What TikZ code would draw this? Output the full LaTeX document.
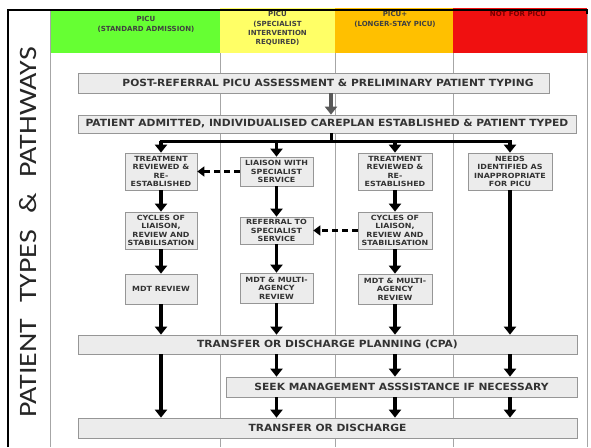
\documentclass[tikz,border=0pt]{standalone}
\usepackage{fontspec}
\usetikzlibrary{arrows.meta,shadows}
\newfontfamily\dvs{DejaVu Sans}
\newfontfamily\dvsw{DejaVu Sans}[FakeStretch=1.08]
\newfontfamily\dvss{DejaVu Sans}[FakeStretch=1.12]
\newfontfamily\carl{Carlito}[FakeStretch=1.2]
\definecolor{hgreen}{RGB}{102,255,51}
\definecolor{hyellow}{RGB}{255,255,102}
\definecolor{horange}{RGB}{255,192,0}
\definecolor{hred}{RGB}{240,16,16}
\definecolor{boxfill}{RGB}{236,236,236}
\definecolor{boxline}{RGB}{150,150,150}
\tikzset{
  colline/.style={draw=black!35, line width=0.9pt},
  hdtext/.style={font=\dvs\bfseries\fontsize{7}{9.3}\selectfont, align=center, anchor=north, inner sep=0pt},
  boxshadow/.style={drop shadow={shadow xshift=1.2pt, shadow yshift=-1.2pt, fill=black!22, opacity=1}},
  bigbox/.style={draw=boxline, fill=boxfill, line width=0.7pt, inner sep=0pt, boxshadow},
  bigtext/.style={font=\dvsw\bfseries\fontsize{9.9}{11}\selectfont, text=black!80, inner sep=0pt},
  smallbox/.style={draw=boxline, fill=boxfill, line width=0.7pt, inner sep=0pt, align=center, boxshadow,
    font=\dvss\bfseries\fontsize{7.1}{8.4}\selectfont, text=black!80},
  arr/.style={line width=3.3pt, -{Triangle[length=8pt,width=12pt]}},
  darr/.style={line width=2.1pt, dash pattern=on 6pt off 4pt, -{Triangle[length=7pt,width=10pt]}},
}
\begin{document}
\begin{tikzpicture}[x=1pt,y=-1pt]
\useasboundingbox (0,0) rectangle (591,447);
% header colours
\fill[hgreen] (50,10) rectangle (220,53);
\fill[hyellow] (220,8) rectangle (335,53);
\fill[horange] (335,8) rectangle (453,53);
\fill[hred] (453,8) rectangle (587,53);
% column lines
\draw[colline] (50,10) -- (50,447);
\draw[colline] (220,53) -- (220,447);
\draw[colline] (335,53) -- (335,447);
\draw[colline] (453,53) -- (453,447);
\draw[colline] (587,10) -- (587,447);
% left frame and top rule
\draw[line width=1.6pt] (8,447) -- (8,10) -- (587,10) -- (587,14);
% side title
\node[rotate=90, font=\carl\fontsize{25}{29}\selectfont, text=black!85, inner sep=0pt] (title) at (28,232.5)
  {PATIENT\hspace{16pt}TYPES\hspace{16pt}\&\hspace{16pt}PATHWAYS};
% header texts
\node[hdtext, text=black!75] (h1) at (146,16.5) {PICU\\(STANDARD ADMISSION)};
\node[hdtext, text=black!75] (h2) at (277.5,11.5) {PICU\\(SPECIALIST\\INTERVENTION\\REQUIRED)};
\node[hdtext, text=black!75] (h3) at (395,11.5) {PICU+\\(LONGER-STAY PICU)};
\node[hdtext, text=black!55!red] (h4) at (518,11.5) {NOT FOR PICU};
% wide boxes
\node[bigbox, minimum width=471pt, minimum height=20pt] (b1) at (313.5,83) {};
\node[bigtext] (b1t) at (328,83) {POST-REFERRAL PICU ASSESSMENT \& PRELIMINARY PATIENT TYPING};
\node[bigbox, minimum width=498pt, minimum height=18pt] (b2) at (327,124) {};
\node[bigtext] (b2t) at (327,124) {PATIENT ADMITTED, INDIVIDUALISED CAREPLAN ESTABLISHED \& PATIENT TYPED};
\node[bigbox, minimum width=499pt, minimum height=19pt] (cpa) at (327.5,344.5) {};
\node[bigtext] (cpat) at (327.5,344.5) {TRANSFER OR DISCHARGE PLANNING (CPA)};
\node[bigbox, minimum width=351pt, minimum height=20pt] (seek) at (401.5,387) {};
\node[bigtext] (seekt) at (401.5,387) {SEEK MANAGEMENT ASSSISTANCE IF NECESSARY};
\node[bigbox, minimum width=499pt, minimum height=20pt] (fin) at (327.5,428) {};
\node[bigtext] (fint) at (327.5,428) {TRANSFER OR DISCHARGE};
% column boxes
\node[smallbox, minimum width=72pt, minimum height=37pt] (t1) at (161,171.5) {TREATMENT\\REVIEWED \&\\RE-\\ESTABLISHED};
\node[smallbox, minimum width=73pt, minimum height=29pt] (l2) at (276.5,171.5) {LIAISON WITH\\SPECIALIST\\SERVICE};
\node[smallbox, minimum width=74pt, minimum height=37pt] (t3) at (395,171.5) {TREATMENT\\REVIEWED \&\\RE-\\ESTABLISHED};
\node[smallbox, minimum width=84pt, minimum height=37pt] (n4) at (510,171.5) {NEEDS\\IDENTIFIED AS\\INAPPROPRIATE\\FOR PICU};
\node[smallbox, minimum width=72pt, minimum height=37pt] (c1) at (161,230.5) {CYCLES OF\\LIAISON,\\REVIEW AND\\STABILISATION};
\node[smallbox, minimum width=73pt, minimum height=27pt] (r2) at (276.5,230.5) {REFERRAL TO\\SPECIALIST\\SERVICE};
\node[smallbox, minimum width=74pt, minimum height=37pt] (c3) at (395,230.5) {CYCLES OF\\LIAISON,\\REVIEW AND\\STABILISATION};
\node[smallbox, minimum width=72pt, minimum height=30pt] (m1) at (161,289) {MDT REVIEW};
\node[smallbox, minimum width=73pt, minimum height=30pt] (m2) at (276.5,288) {MDT \& MULTI-\\AGENCY\\REVIEW};
\node[smallbox, minimum width=74pt, minimum height=30pt] (m3) at (395,289) {MDT \& MULTI-\\AGENCY\\REVIEW};
% top connectors
\coordinate (j) at (331,141);
\draw[arr, black!65] (b1.south -| j) -- (b2.north -| j);
\draw[line width=3pt] (b2.south -| j) -- (j);
\draw[line width=3pt] ([xshift=-1.5pt]t1 |- j) -- ([xshift=1.5pt]n4 |- j);
\draw[arr] (t1 |- j) -- (t1.north);
\draw[arr] (l2 |- j) -- (l2.north);
\draw[arr] (t3 |- j) -- (t3.north);
\draw[arr] (n4 |- j) -- (n4.north);
% column flows
\draw[arr] (t1) -- (c1);
\draw[arr] (c1) -- (m1);
\draw[arr] (l2) -- (r2);
\draw[arr] (r2) -- (m2);
\draw[arr] (t3) -- (c3);
\draw[arr] (c3) -- (m3);
\draw[darr] (l2.west) -- (t1.east);
\draw[darr] (c3.west) -- (r2.east);
\draw[arr] (m1.south) -- (m1.south |- cpa.north);
\draw[arr] (m2.south) -- (m2.south |- cpa.north);
\draw[arr] (m3.south) -- (m3.south |- cpa.north);
\draw[arr] (n4.south) -- (n4.south |- cpa.north);
% bottom flows
\draw[arr] (cpa.south -| m1) -- (fin.north -| m1);
\draw[arr] (cpa.south -| m2) -- (seek.north -| m2);
\draw[arr] (cpa.south -| m3) -- (seek.north -| m3);
\draw[arr] (cpa.south -| n4) -- (seek.north -| n4);
\draw[arr] (seek.south -| m2) -- (fin.north -| m2);
\draw[arr] (seek.south -| m3) -- (fin.north -| m3);
\draw[arr] (seek.south -| n4) -- (fin.north -| n4);
\end{tikzpicture}
\end{document}
